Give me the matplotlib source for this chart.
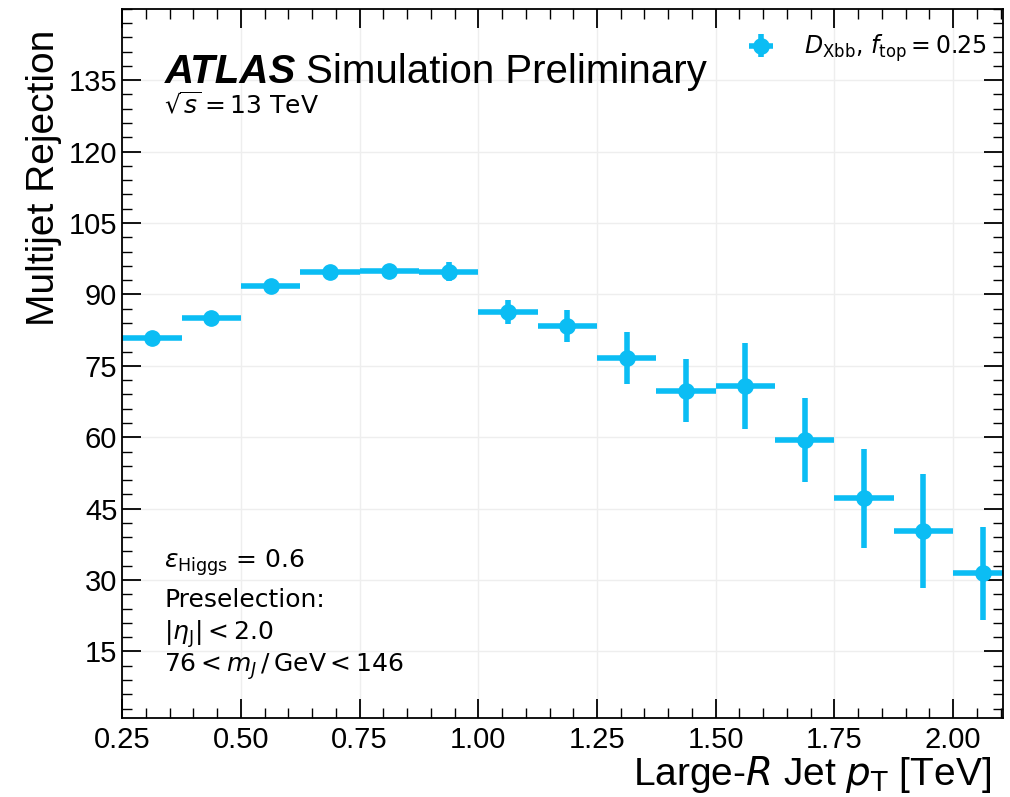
import matplotlib
matplotlib.use("Agg")
import matplotlib.pyplot as plt
import numpy as np
from matplotlib.ticker import MultipleLocator

# bin centres / half widths in TeV
pt_centers = [0.3125, 0.4375, 0.5625, 0.6875, 0.8125, 0.9375, 1.0625, 1.1875,
              1.3125, 1.4375, 1.5625, 1.6875, 1.8125, 1.9375, 2.0625]
pt_halfwidth = 0.0625
rejection = [80.8, 85.0, 91.7, 94.8, 95.0, 94.8, 86.3, 83.3,
             76.6, 69.8, 70.7, 59.4, 47.2, 40.3, 31.4]
rejection_err = [0.8, 1.0, 1.2, 1.0, 1.2, 2.0, 2.5, 3.4,
                 5.5, 6.7, 9.0, 8.8, 10.4, 12.0, 9.7]

color = "#0bbdf4"
label_font = "Liberation Sans"

fig = plt.figure(figsize=(10.1, 7.97), dpi=100)
ax = fig.add_axes([0.121, 0.099, 0.872, 0.890])

ax.errorbar(pt_centers, rejection, xerr=pt_halfwidth, yerr=rejection_err,
            fmt="o", color=color, markersize=11, elinewidth=4, capsize=0,
            label=r"$D_{\mathrm{Xbb}}$, $f_{\mathrm{top}} = 0.25$")

ax.set_xlim(0.25, 2.105)
ax.set_ylim(1, 150)
ax.xaxis.set_major_locator(MultipleLocator(0.25))
ax.xaxis.set_minor_locator(MultipleLocator(0.05))
ax.yaxis.set_major_locator(MultipleLocator(15))
ax.yaxis.set_minor_locator(MultipleLocator(3))
ax.set_yticks(np.arange(15, 150, 15))
ax.tick_params(which="both", direction="in", top=True, right=True)
ax.tick_params(which="major", length=14, width=1.3)
ax.tick_params(which="minor", length=7, width=1.0)
for lab in ax.get_xticklabels() + ax.get_yticklabels():
    lab.set_fontfamily(label_font)
    lab.set_fontsize(21)
ax.tick_params(axis="x", pad=6)
ax.grid(True, which="major", color="#eeeeee", linewidth=1.0)
ax.set_axisbelow(True)
for sp in ax.spines.values():
    sp.set_linewidth(1.3)

ax.set_ylabel("Multijet Rejection", fontsize=28, family=label_font, loc="top")
ax.yaxis.set_label_coords(-0.068, 0.97)
ax.set_xlabel(r"Large-$R$ Jet $p_{\mathrm{T}}$ [TeV]", fontsize=28,
              family=label_font, loc="right")
ax.xaxis.set_label_coords(0.986, -0.0945)
ax.xaxis.label.set_va("baseline")

ax.text(0.048, 0.896, "ATLAS", transform=ax.transAxes, fontsize=29,
        fontweight="bold", fontstyle="italic", family=label_font, va="baseline")
ax.text(0.209, 0.896, "Simulation Preliminary", transform=ax.transAxes,
        fontsize=29, family=label_font, va="baseline")
ax.text(0.048, 0.853, r"$\sqrt{s} = 13$ TeV", transform=ax.transAxes,
        fontsize=18, va="baseline")

notes = [r"$\varepsilon_{\mathrm{Higgs}}$ = 0.6",
         "Preselection:",
         r"$|\eta_{\mathrm{J}}| < 2.0$",
         r"$76 < m_{J}\,/\,\mathrm{GeV} < 146$"]
note_y = [0.212, 0.157, 0.110, 0.065]
for t, y in zip(notes, note_y):
    ax.text(0.048, y, t, transform=ax.transAxes, fontsize=18, va="baseline")

ax.legend(loc="upper right", frameon=False, fontsize=17, handlelength=1.2,
          handletextpad=1.2, bbox_to_anchor=(1.0, 0.99), borderaxespad=0.3)

fig.savefig("out.png", dpi=100)
